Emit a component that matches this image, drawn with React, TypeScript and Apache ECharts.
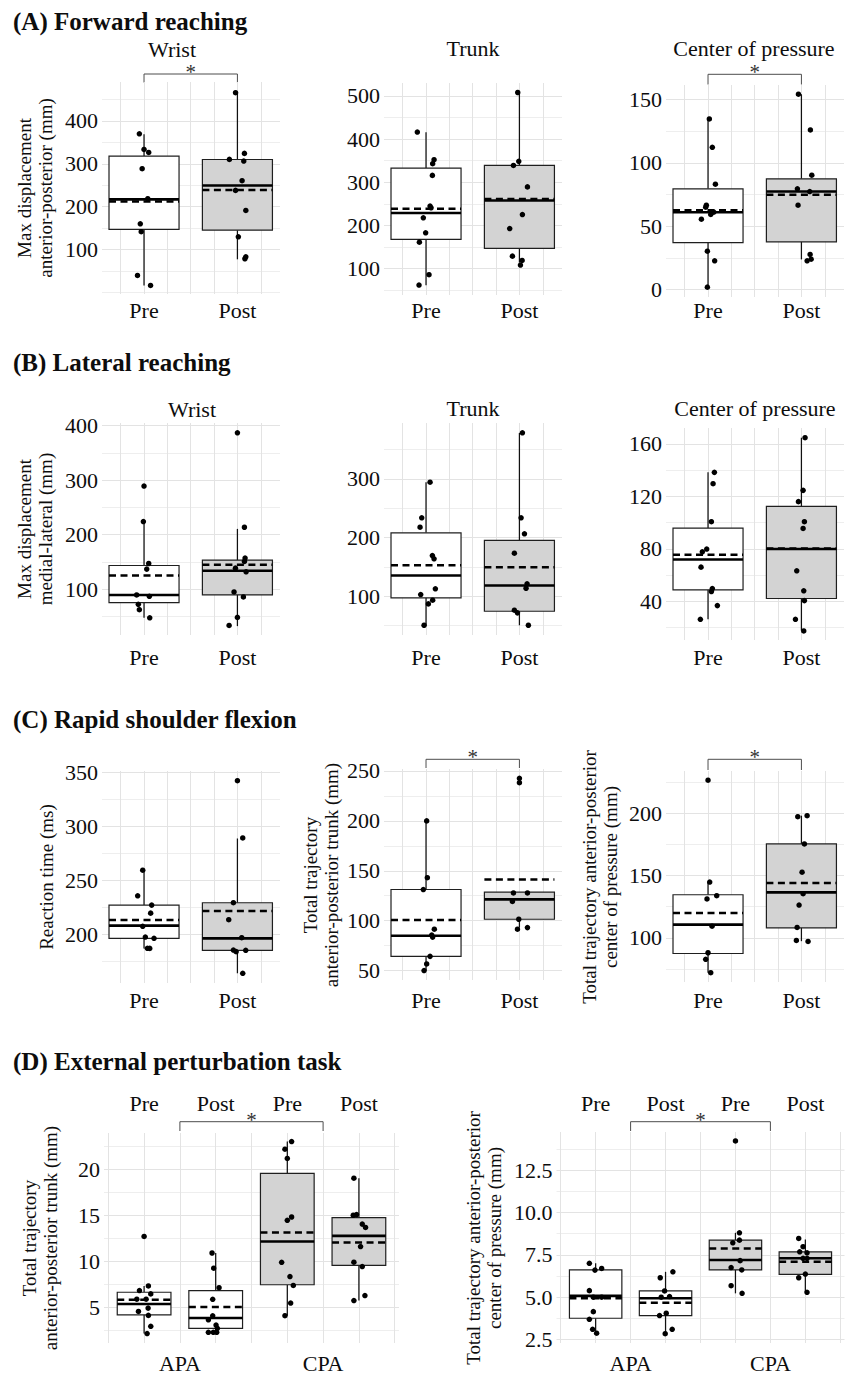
import React, { useEffect, useRef } from 'react';
import * as echarts from 'echarts';

// ------------------------------------------------------------------ data
const conditionLabels = ['Pre', 'Post'];
const phaseLabels = ['Pre', 'Post', 'Pre', 'Post'];
const adjustmentLabels = ['APA', 'CPA'];

// Box statistics: [x, lower whisker, Q1, median, Q3, upper whisker, mean]
// (A) Forward reaching
const fwdWristTicks = [100, 200, 300, 400];
const fwdWristMinor = [0, 50, 150, 250, 350, 450];
const fwdWristLimits = [-4, 491];
const fwdWristBoxes = [
  [1, 16, 147, 217, 318, 369, 212],
  [2, 77, 145, 249.5, 310, 466, 238.6],
];
const fwdWristPoints = [
  [0.95, 370], [1.0, 333.6], [1.05, 326.6], [0.98, 288.5], [1.04, 218.4], [0.96, 160], [0.97, 141.4], [0.93, 39.3], [1.07, 16],
  [1.98, 466], [2.075, 324.3], [1.914, 310.3], [2.068, 306.4], [2.05, 260.5], [1.98, 237.9], [2.09, 191], [2.01, 129.6], [2.09, 82.9], [2.08, 78.3],
];

const fwdTrunkTicks = [100, 200, 300, 400, 500];
const fwdTrunkMinor = [50, 150, 250, 350, 450];
const fwdTrunkLimits = [39, 530];
const fwdTrunkBoxes = [
  [1, 61.4, 167.7, 229, 333, 416, 238.6],
  [2, 114, 147, 257.7, 339, 508, 261.6],
];
const fwdTrunkPoints = [
  [0.907, 416.4], [1.086, 352.4], [1.071, 343], [1.068, 316], [1.043, 245], [1.054, 241], [0.971, 217.8], [0.996, 183], [0.929, 161.4], [1.032, 86], [0.925, 62],
  [1.982, 508], [1.993, 348.5], [1.936, 339], [2.086, 289.4], [2.032, 225.4], [1.896, 193], [1.925, 129], [2.029, 119], [2.011, 108.4],
];

const fwdCopTicks = [0, 50, 100, 150];
const fwdCopMinor = [25, 75, 125];
const fwdCopLimits = [-6, 161.5];
const fwdCopBoxes = [
  [1, 1.8, 36.9, 61, 79.5, 134.7, 62.6],
  [2, 23.7, 37.6, 77.3, 87.4, 154.2, 74.7],
];
const fwdCopPoints = [
  [1.014, 134.7], [1.046, 112.3], [1.079, 83.1], [0.982, 66.5], [0.975, 65], [1.029, 59.2], [0.929, 55.5], [0.993, 30.2], [1.071, 22.6], [0.993, 1.8], [1.061, 61],
  [1.968, 154.2], [2.096, 126], [2.111, 90.2], [1.957, 79.5], [2.089, 77.3], [1.964, 66.5], [2.093, 27.6], [2.061, 22.6], [2.104, 23.9],
];

// (B) Lateral reaching
const latWristTicks = [100, 200, 300, 400];
const latWristMinor = [50, 150, 250, 350];
const latWristLimits = [16, 405];
const latWristBoxes = [
  [1, 47.6, 75.3, 89.5, 143.5, 224.2, 125],
  [2, 32.3, 89.5, 133.8, 153.5, 210.7, 144.8],
];
const latWristPoints = [
  [1.0, 289.3], [0.993, 224.2], [1.05, 147.2], [1.029, 136.9], [0.921, 89.5], [1.057, 87], [0.939, 72.3], [0.95, 62.4], [1.061, 47.6],
  [2.0, 387], [2.075, 213.7], [2.082, 157.2], [2.075, 151], [1.979, 138.7], [2.093, 131.9], [1.964, 95], [2.064, 85.8], [2.0, 48.3], [1.911, 33.6],
];

const latTrunkTicks = [100, 200, 300];
const latTrunkMinor = [50, 150, 250, 350];
const latTrunkLimits = [34, 395];
const latTrunkBoxes = [
  [1, 50.6, 97.3, 135.3, 208, 294.2, 152.8],
  [2, 50.6, 74.4, 118.2, 195, 378, 149.4],
];
const latTrunkPoints = [
  [1.043, 294.2], [0.954, 233.5], [0.936, 217.6], [1.068, 169.3], [1.086, 163.7], [0.943, 102.9], [1.1, 112.6], [1.071, 93.2], [1.025, 87], [0.979, 50.6],
  [2.032, 378.3], [2.018, 233.5], [2.054, 206.3], [1.946, 173.3], [2.082, 121.1], [2.071, 113.6], [1.946, 76.2], [1.979, 71.7], [2.096, 50.6],
];

const latCopTicks = [40, 80, 120, 160];
const latCopMinor = [20, 60, 100, 140];
const latCopLimits = [10.5, 172];
const latCopBoxes = [
  [1, 26.3, 48.7, 71.8, 95.8, 138.2, 75.4],
  [2, 17.6, 42.1, 79.8, 112.3, 164.6, 80.2],
];
const latCopPoints = [
  [1.068, 138.2], [1.054, 129.6], [1.036, 100.6], [0.986, 79.8], [0.939, 77.7], [0.925, 66], [1.046, 49.7], [1.036, 47.4], [1.1, 36.7], [0.918, 26.3],
  [2.039, 164.6], [2.018, 124.5], [1.968, 115.9], [2.032, 100.6], [2.018, 95.5], [1.95, 63.2], [2.025, 48], [2.032, 40.5], [1.936, 26.3], [2.025, 17.4],
];

// (C) Rapid shoulder flexion
const reactTicks = [200, 250, 300, 350];
const reactMinor = [175, 225, 275, 325];
const reactLimits = [155, 351];
const reactBoxes = [
  [1, 187, 196.3, 208, 227, 259.4, 213.2],
  [2, 164, 185.2, 196.3, 229.2, 288.6, 221.5],
];
const reactPoints = [
  [0.986, 259.3], [0.932, 235.6], [1.082, 227], [1.071, 219.6], [0.986, 207.4], [1.014, 197.5], [1.107, 196.3], [1.036, 187.1], [1.061, 187],
  [2.0, 342], [2.057, 289.1], [1.957, 229.2], [1.907, 213.5], [2.046, 196.9], [1.957, 185.5], [1.986, 184], [2.089, 185.2], [2.057, 164],
];

const flexTrunkTicks = [50, 100, 150, 200, 250];
const flexTrunkMinor = [75, 125, 175, 225];
const flexTrunkLimits = [40.5, 252];
const flexTrunkBoxes = [
  [1, 50, 64.2, 84.8, 131.2, 200, 100.7],
  [2, 93, 101.4, 121.3, 128.5, 128.5, 141.2],
];
const flexTrunkPoints = [
  [1.007, 200], [1.014, 143], [0.971, 131.2], [1.089, 91.4], [1.071, 83.5], [1.061, 85.5], [1.043, 64.2], [1.007, 56.6], [0.979, 50],
  [2.0, 242.7], [2.0, 238.3], [1.936, 127.8], [2.086, 127.8], [1.925, 119.2], [1.993, 101.4], [1.979, 91.4], [2.086, 93],
];

const flexCopTicks = [100, 150, 200];
const flexCopMinor = [75, 125, 175, 225];
const flexCopLimits = [64.5, 234];
const flexCopBoxes = [
  [1, 72, 87.4, 110.6, 134.6, 144.8, 120],
  [2, 97.3, 108, 136.5, 175.4, 198.1, 144],
];
const flexCopPoints = [
  [1.0, 226.6], [1.018, 144.8], [0.989, 131.2], [1.093, 133.8], [1.043, 109.3], [1.0, 88], [0.975, 82.7], [1.029, 72],
  [1.961, 197.3], [2.061, 198.1], [2.032, 175.4], [2.007, 152.7], [2.018, 135.4], [1.975, 126.3], [1.954, 108.3], [1.946, 97.9], [2.071, 97.1],
];

// (D) External perturbation task
const pertTrunkTicks = [5, 10, 15, 20];
const pertTrunkMinor = [2.5, 7.5, 12.5, 17.5, 22.5];
const pertTrunkLimits = [1.15, 23.9];
const pertTrunkBoxes = [
  [1, 2.17, 4.2, 5.37, 6.65, 7.32, 5.83],
  [2, 2.2, 2.74, 3.86, 6.82, 10.9, 5.04],
  [3, 4.1, 7.46, 12.15, 19.53, 22.97, 13.12],
  [4, 5.75, 9.57, 12.76, 14.74, 19.0, 12.04],
];
const pertTrunkPoints = [
  [1.0, 12.69], [1.06, 7.33], [0.935, 6.83], [1.093, 6.47], [0.898, 5.9], [1.028, 5.9], [1.056, 4.93], [0.921, 4.57], [1.06, 4.14], [1.093, 2.96], [1.042, 2.17],
  [1.949, 10.9], [1.972, 9.25], [2.047, 7.14], [1.958, 5.88], [1.958, 4.09], [1.898, 3.66], [2.005, 3.09], [2.023, 2.74], [1.898, 2.31], [1.967, 2.31], [2.014, 2.31],
  [3.06, 22.97], [2.967, 22.15], [3.0, 21.14], [3.06, 14.8], [3.0, 14.44], [2.921, 9.89], [3.037, 8.35], [3.084, 7.38], [3.047, 5.48], [2.967, 4.11],
  [3.93, 19.0], [3.921, 14.99], [3.967, 15.06], [4.047, 14.03], [4.093, 13.67], [4.023, 11.6], [3.93, 9.9], [4.047, 9.43], [4.084, 6.29], [3.93, 5.75],
];

const pertCopTicks = [2.5, 5, 7.5, 10, 12.5];
const pertCopMinor = [3.75, 6.25, 8.75, 11.25, 13.75];
const pertCopLimits = [2.3, 14.75];
const pertCopBoxes = [
  [1, 2.88, 3.76, 5.08, 6.61, 7.0, 4.94],
  [2, 2.85, 3.92, 4.94, 5.37, 6.5, 4.68],
  [3, 5.23, 6.61, 7.2, 8.37, 8.8, 7.88],
  [4, 5.29, 6.35, 7.3, 7.68, 8.41, 7.1],
];
const pertCopPoints = [
  [0.91, 7.0], [1.086, 6.7], [0.99, 6.6], [0.91, 5.39], [0.967, 5.0], [1.086, 5.0], [0.967, 4.15], [0.91, 3.7], [0.957, 3.11], [1.014, 2.88],
  [2.105, 6.5], [1.924, 6.15], [1.986, 5.37], [2.057, 5.04], [1.938, 5.0], [2.01, 4.06], [1.914, 3.92], [2.095, 3.11], [1.995, 2.85],
  [3.0, 14.22], [3.057, 8.8], [2.962, 8.21], [3.057, 8.37], [3.067, 7.16], [2.938, 6.75], [3.09, 6.61], [2.938, 5.68], [3.095, 5.23],
  [3.905, 8.47], [3.967, 7.98], [3.919, 7.68], [4.024, 7.62], [3.967, 7.3], [4.024, 7.3], [3.905, 6.15], [4.0, 6.37], [4.024, 5.29],
];

// ------------------------------------------------------------------ layout / style
const SERIF = '"Liberation Serif", "Times New Roman", Times, serif';
const INK = '#0d0d0d';
const MAJOR_GRID = '#e3e3e3';
const MINOR_GRID = '#ececec';
const ABX = [0.55, 2.456];
const DX = [0.44, 4.56];
const ABV = [0.75, 1, 1.25, 1.5, 1.75, 2, 2.25];
const DV = [0.5, 1, 1.5, 2, 2.5, 3, 3.5, 4, 4.5];

type Panel = {
  left: number; top: number; width: number; height: number;
  xr: number[]; vlines: number[];
  limits: number[]; ticks: number[]; minor: number[];
  boxes: number[][]; points: number[][];
  shadeFrom: number; d?: boolean; decimals?: number;
  labelY: number; topLabelY?: number;
};

const panels: Panel[] = [
  { left: 102, top: 82, width: 178, height: 212, xr: ABX, vlines: ABV, limits: fwdWristLimits, ticks: fwdWristTicks, minor: fwdWristMinor, boxes: fwdWristBoxes, points: fwdWristPoints, shadeFrom: 2, labelY: 310 },
  { left: 384, top: 83, width: 178, height: 212, xr: ABX, vlines: ABV, limits: fwdTrunkLimits, ticks: fwdTrunkTicks, minor: fwdTrunkMinor, boxes: fwdTrunkBoxes, points: fwdTrunkPoints, shadeFrom: 2, labelY: 310 },
  { left: 666, top: 85, width: 178, height: 212, xr: ABX, vlines: ABV, limits: fwdCopLimits, ticks: fwdCopTicks, minor: fwdCopMinor, boxes: fwdCopBoxes, points: fwdCopPoints, shadeFrom: 2, labelY: 310 },
  { left: 102, top: 423, width: 178, height: 212, xr: ABX, vlines: ABV, limits: latWristLimits, ticks: latWristTicks, minor: latWristMinor, boxes: latWristBoxes, points: latWristPoints, shadeFrom: 2, labelY: 657 },
  { left: 384, top: 423, width: 178, height: 212, xr: ABX, vlines: ABV, limits: latTrunkLimits, ticks: latTrunkTicks, minor: latTrunkMinor, boxes: latTrunkBoxes, points: latTrunkPoints, shadeFrom: 2, labelY: 657 },
  { left: 666, top: 428, width: 178, height: 212, xr: ABX, vlines: ABV, limits: latCopLimits, ticks: latCopTicks, minor: latCopMinor, boxes: latCopBoxes, points: latCopPoints, shadeFrom: 2, labelY: 657 },
  { left: 102, top: 771, width: 178, height: 212, xr: ABX, vlines: ABV, limits: reactLimits, ticks: reactTicks, minor: reactMinor, boxes: reactBoxes, points: reactPoints, shadeFrom: 2, labelY: 1000 },
  { left: 384, top: 769, width: 178, height: 211, xr: ABX, vlines: ABV, limits: flexTrunkLimits, ticks: flexTrunkTicks, minor: flexTrunkMinor, boxes: flexTrunkBoxes, points: flexTrunkPoints, shadeFrom: 2, labelY: 1000 },
  { left: 666, top: 771, width: 178, height: 211, xr: ABX, vlines: ABV, limits: flexCopLimits, ticks: flexCopTicks, minor: flexCopMinor, boxes: flexCopBoxes, points: flexCopPoints, shadeFrom: 2, labelY: 1000 },
  { left: 104, top: 1133, width: 295, height: 210, xr: DX, vlines: DV, limits: pertTrunkLimits, ticks: pertTrunkTicks, minor: pertTrunkMinor, boxes: pertTrunkBoxes, points: pertTrunkPoints, shadeFrom: 3, d: true, labelY: 1363, topLabelY: 1103 },
  { left: 556.5, top: 1132, width: 288, height: 211, xr: DX, vlines: DV, limits: pertCopLimits, ticks: pertCopTicks, minor: pertCopMinor, boxes: pertCopBoxes, points: pertCopPoints, shadeFrom: 3, d: true, decimals: 1, labelY: 1363, topLabelY: 1103 },
];

const sectionTitles = [
  { text: '(A) Forward reaching', y: 21 },
  { text: '(B) Lateral reaching', y: 362 },
  { text: '(C) Rapid shoulder flexion', y: 719 },
  { text: '(D) External perturbation task', y: 1061 },
];

const subtitles = [
  { text: 'Wrist', x: 172, y: 49 },
  { text: 'Trunk', x: 473, y: 48.5 },
  { text: 'Center of pressure', x: 754, y: 48 },
  { text: 'Wrist', x: 192, y: 409 },
  { text: 'Trunk', x: 473, y: 408 },
  { text: 'Center of pressure', x: 755, y: 408.5 },
];

const yTitles = [
  { text: 'Max displacement\nanterior-posterior (mm)', x: 35, y: 188 },
  { text: 'Max displacement\nmedial-lateral (mm)', x: 35, y: 529 },
  { text: 'Reaction time (ms)', x: 46, y: 877 },
  { text: 'Total trajectory\nanterior-posterior trunk (mm)', x: 321, y: 875 },
  { text: 'Total trajectory anterior-posterior\ncenter of pressure (mm)', x: 600, y: 877 },
  { text: 'Total trajectory\nanterior-posterior trunk (mm)', x: 40, y: 1238 },
  { text: 'Total trajectory anterior-posterior\ncenter of pressure (mm)', x: 484, y: 1238 },
];

// significance brackets: panel index, x from, x to, bracket y, tick end y, star y
const brackets = [
  { panel: 0, from: 1, to: 2, y: 74, end: 82.5, star: 72 },
  { panel: 2, from: 1, to: 2, y: 74.3, end: 84.5, star: 72 },
  { panel: 7, from: 1, to: 2, y: 759.3, end: 768, star: 757 },
  { panel: 8, from: 1, to: 2, y: 759.3, end: 770, star: 757 },
  { panel: 9, from: 1.5, to: 3.5, y: 1121.7, end: 1131, star: 1120 },
  { panel: 10, from: 1.5, to: 3.5, y: 1121.7, end: 1131, star: 1120 },
];

const txt = (extra: any) => ({ fontFamily: SERIF, fill: INK, ...extra });

function renderBox(params: any, api: any) {
  const x = api.value(0);
  const lo = api.value(1), q1 = api.value(2), med = api.value(3), q3 = api.value(4), hi = api.value(5), mean = api.value(6);
  const shaded = api.value(7);
  const hw = 0.375;
  const pL = api.coord([x - hw, q3]);
  const pR = api.coord([x + hw, q1]);
  const xc = api.coord([x, lo])[0];
  const yLo = api.coord([x, lo])[1];
  const yHi = api.coord([x, hi])[1];
  const yMed = api.coord([x, med])[1];
  const yMean = api.coord([x, mean])[1];
  const wStyle = { stroke: '#111', lineWidth: 1.25 };
  return {
    type: 'group',
    children: [
      { type: 'line', shape: { x1: xc, y1: pL[1], x2: xc, y2: yHi }, style: wStyle },
      { type: 'line', shape: { x1: xc, y1: pR[1], x2: xc, y2: yLo }, style: wStyle },
      { type: 'rect', shape: { x: pL[0], y: pL[1], width: pR[0] - pL[0], height: pR[1] - pL[1] }, style: { fill: shaded ? '#d3d3d3' : '#ffffff', stroke: '#1f1f1f', lineWidth: 1.2 } },
      { type: 'line', shape: { x1: pL[0], y1: yMed, x2: pR[0], y2: yMed }, style: { stroke: '#000', lineWidth: 2.6 } },
      { type: 'line', shape: { x1: pL[0], y1: yMean, x2: pR[0], y2: yMean }, style: { stroke: '#000', lineWidth: 2.5, lineDash: [7, 4.5] } },
    ],
  };
}

function buildOption() {
  const grid: any[] = [];
  const xAxis: any[] = [];
  const yAxis: any[] = [];
  const series: any[] = [];
  const labelFont = { fontFamily: SERIF, fontSize: 22, color: INK };

  panels.forEach((p, i) => {
    grid.push({ left: p.left, top: p.top, width: p.width, height: p.height, containLabel: false });
    const bottomMargin = p.labelY - (p.top + p.height) - 11;
    const mainX = xAxis.length;
    xAxis.push({
      gridIndex: i, type: 'value', min: p.xr[0], max: p.xr[1], position: 'bottom',
      axisLine: { show: false }, axisTick: { show: false }, splitLine: { show: false },
      axisLabel: {
        ...labelFont, margin: bottomMargin,
        customValues: p.d ? [1.5, 3.5] : [1, 2],
        formatter: (v: number) => (p.d ? adjustmentLabels[v < 2.5 ? 0 : 1] : conditionLabels[Math.round(v) - 1]),
      },
    });
    if (p.d) {
      xAxis.push({
        gridIndex: i, type: 'value', min: p.xr[0], max: p.xr[1], position: 'top',
        axisLine: { show: false }, axisTick: { show: false }, splitLine: { show: false },
        axisLabel: {
          ...labelFont, margin: p.top - (p.topLabelY as number) - 11,
          customValues: [1, 2, 3, 4],
          formatter: (v: number) => phaseLabels[Math.round(v) - 1],
        },
      });
    }
    yAxis.push({
      gridIndex: i, type: 'value', min: p.limits[0], max: p.limits[1],
      axisLine: { show: false }, axisTick: { show: false }, splitLine: { show: false },
      axisLabel: {
        ...labelFont, margin: 4,
        customValues: p.ticks,
        formatter: (v: number) => (p.decimals ? v.toFixed(p.decimals) : String(v)),
      },
    });
    series.push({
      type: 'custom', xAxisIndex: mainX, yAxisIndex: i, silent: true, z: 2,
      renderItem: renderBox,
      encode: { x: 0, y: [1, 2, 3, 4, 5, 6] },
      data: p.boxes.map((b) => [...b, b[0] >= p.shadeFrom ? 1 : 0]),
    });
    series.push({
      type: 'scatter', xAxisIndex: mainX, yAxisIndex: i, silent: true, z: 3,
      symbol: 'circle', symbolSize: 5.5, itemStyle: { color: '#000', opacity: 1 },
      data: p.points,
      markLine: {
        silent: true, z: 1, symbol: ['none', 'none'], label: { show: false },
        emphasis: { disabled: true },
        data: [
          ...p.minor.map((v) => ({ yAxis: v, lineStyle: { color: MINOR_GRID, width: 0.9, type: 'solid' } })),
          ...p.ticks.map((v) => ({ yAxis: v, lineStyle: { color: MAJOR_GRID, width: 1.1, type: 'solid' } })),
          ...p.vlines.map((v) => ({ xAxis: v, lineStyle: { color: MAJOR_GRID, width: 1, type: 'solid' } })),
        ],
      },
    });
  });

  return { animation: false, backgroundColor: '#ffffff', grid, xAxis, yAxis, series };
}

function buildGraphic(chart: any) {
  const els: any[] = [];
  sectionTitles.forEach((t) => {
    els.push({ type: 'text', x: 13, y: t.y, style: txt({ text: t.text, fontSize: 25, fontWeight: 'bold', align: 'left', textAlign: 'left', verticalAlign: 'middle', textVerticalAlign: 'middle' }) });
  });
  subtitles.forEach((t) => {
    els.push({ type: 'text', x: t.x, y: t.y, style: txt({ text: t.text, fontSize: 22, align: 'center', textAlign: 'center', verticalAlign: 'middle', textVerticalAlign: 'middle' }) });
  });
  yTitles.forEach((t) => {
    els.push({ type: 'text', x: t.x, y: t.y, rotation: Math.PI / 2, style: txt({ text: t.text, fontSize: 19, lineHeight: 21, align: 'center', textAlign: 'center', verticalAlign: 'middle', textVerticalAlign: 'middle' }) });
  });
  brackets.forEach((b) => {
    const p = panels[b.panel];
    const x1 = chart.convertToPixel({ gridIndex: b.panel }, [b.from, p.limits[1]])[0];
    const x2 = chart.convertToPixel({ gridIndex: b.panel }, [b.to, p.limits[1]])[0];
    els.push({ type: 'polyline', shape: { points: [[x1, b.end], [x1, b.y], [x2, b.y], [x2, b.end]] }, style: { stroke: '#4d4d4d', lineWidth: 1, fill: 'none' } });
    els.push({ type: 'text', x: (x1 + x2) / 2, y: b.star, style: { text: '*', fontFamily: SERIF, fontSize: 21, fill: '#333', align: 'center', textAlign: 'center', verticalAlign: 'middle', textVerticalAlign: 'middle' } });
  });
  return els;
}

export default function App() {
  const ref = useRef<HTMLDivElement>(null);
  useEffect(() => {
    document.body.style.margin = '0';
    if (!ref.current) return;
    const chart = echarts.init(ref.current, null, { renderer: 'svg', width: 845, height: 1376 });
    chart.setOption(buildOption() as any);
    chart.setOption({ graphic: buildGraphic(chart) } as any);
    return () => chart.dispose();
  }, []);
  return <div ref={ref} style={{ width: 845, height: 1376, background: '#fff' }} />;
}
